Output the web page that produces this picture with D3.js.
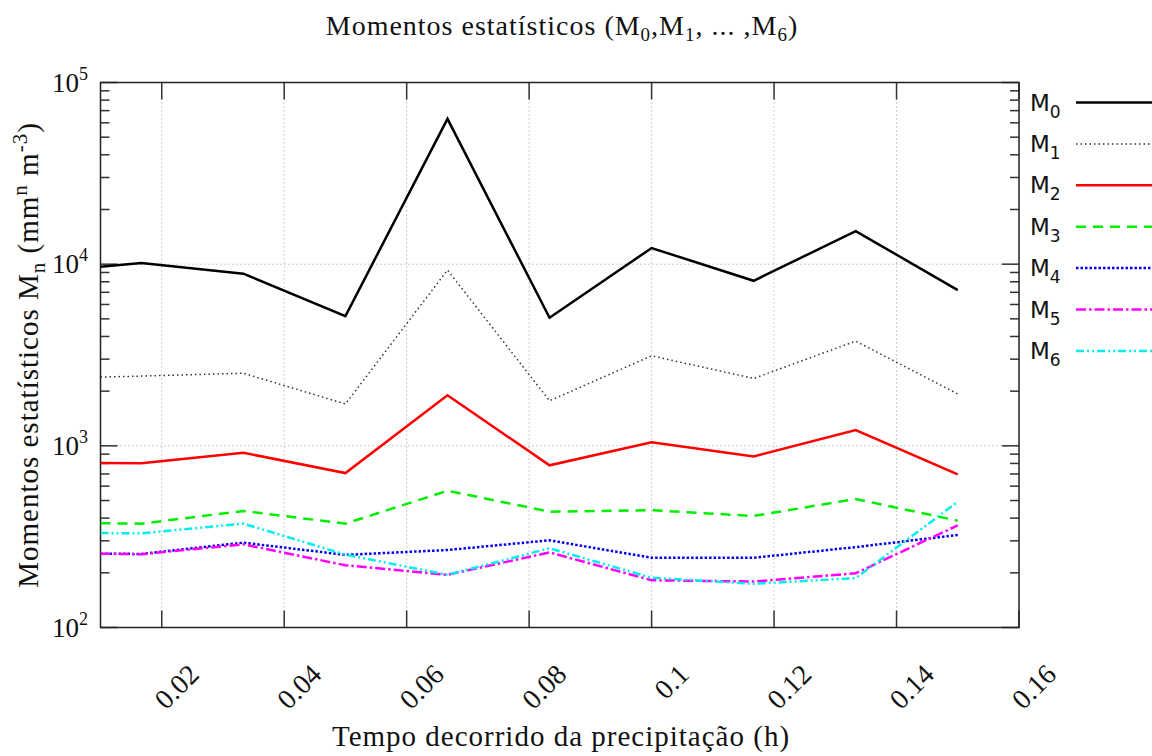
<!DOCTYPE html>
<html>
<head>
<meta charset="utf-8">
<script src="https://cdn.jsdelivr.net/npm/d3@7"></script>
<style>
  html, body { margin: 0; padding: 0; background: #ffffff; }
  svg { display: block; }
</style>
</head>
<body>
<svg id="chart" width="1152" height="756"></svg>
<script>
// Elapsed time of the precipitation event (hours)
const times = [0.01, 1/60, 2/60, 3/60, 4/60, 5/60, 6/60, 7/60, 8/60, 9/60];

// Statistical moments M0..M6 (mm^n m^-3)
const m0 = [9680, 10140, 8860, 5180, 63100, 5070, 12270, 8100, 15200, 7200];
const m1 = [2390, 2420, 2510, 1700, 9280, 1770, 3130, 2350, 3770, 1930];
const m2 = [804, 801, 916, 708, 1900, 781, 1045, 875, 1222, 697];
const m3 = [375, 373, 438, 373, 566, 434, 442, 411, 510, 387];
const m4 = [255, 254, 293, 251, 267, 302, 242, 242, 277, 323];
const m5 = [255, 253, 287, 220, 195, 259, 182, 179, 199, 365];
const m6 = [331, 330, 373, 252, 195, 273, 188, 174, 187, 492];

const seriesNames = ["0", "1", "2", "3", "4", "5", "6"];
const seriesValues = [m0, m1, m2, m3, m4, m5, m6];
const seriesColors = ["#000000", "#333333", "#ff0000", "#00ee00", "#0000ee", "#ff00ff", "#00eeee"];
const seriesDash = [null, "1.5,3", null, "10,7", "2.5,2", "10,3,2.5,3", "8,3,2,3,2,3"];
const seriesWidth = [2.5, 1.5, 2.5, 2.5, 2.5, 2.5, 2.5];

const xTicks = [0.02, 0.04, 0.06, 0.08, 0.1, 0.12, 0.14, 0.16];
const xTickLabels = ["0.02", "0.04", "0.06", "0.08", "0.1", "0.12", "0.14", "0.16"];
const yDecades = [2, 3, 4, 5];

const svg = d3.select("#chart");
const plot = { left: 100.5, right: 1019, top: 82.5, bottom: 627.5 };

const x = d3.scaleLinear().domain([0.01, 0.16]).range([plot.left, plot.right]);
const y = d3.scaleLog().domain([1e2, 1e5]).range([plot.bottom, plot.top]);

const serif = "'Liberation Serif', 'DejaVu Serif', serif";
const sans = "'DejaVu Sans', 'Liberation Sans', sans-serif";

// Clip region for the data lines
svg.append("defs").append("clipPath").attr("id", "plotClip")
  .append("rect")
  .attr("x", plot.left).attr("y", plot.top)
  .attr("width", plot.right - plot.left).attr("height", plot.bottom - plot.top);

// Grid lines (dotted)
const grid = svg.append("g").attr("stroke", "#9a9a9a").attr("stroke-width", 1)
  .attr("stroke-dasharray", "1,3");
xTicks.filter(t => t < 0.159).forEach(t => {
  grid.append("line").attr("x1", x(t)).attr("x2", x(t))
    .attr("y1", plot.top).attr("y2", plot.bottom);
});
[3, 4].forEach(d => {
  grid.append("line").attr("x1", plot.left).attr("x2", plot.right)
    .attr("y1", y(Math.pow(10, d))).attr("y2", y(Math.pow(10, d)));
});

// Tick marks on all four sides
const ticks = svg.append("g").attr("stroke", "#333").attr("stroke-width", 1.5);
xTicks.forEach(t => {
  ticks.append("line").attr("x1", x(t)).attr("x2", x(t))
    .attr("y1", plot.bottom).attr("y2", plot.bottom - 17);
  ticks.append("line").attr("x1", x(t)).attr("x2", x(t))
    .attr("y1", plot.top).attr("y2", plot.top + 17);
});
yDecades.forEach(d => {
  const base = Math.pow(10, d);
  ticks.append("line").attr("x1", plot.left).attr("x2", plot.left + 17)
    .attr("y1", y(base)).attr("y2", y(base));
  ticks.append("line").attr("x1", plot.right).attr("x2", plot.right - 17)
    .attr("y1", y(base)).attr("y2", y(base));
  if (d < 5) {
    for (let k = 2; k <= 9; k++) {
      const v = k * base;
      ticks.append("line").attr("x1", plot.left).attr("x2", plot.left + 9)
        .attr("y1", y(v)).attr("y2", y(v));
      ticks.append("line").attr("x1", plot.right).attr("x2", plot.right - 9)
        .attr("y1", y(v)).attr("y2", y(v));
    }
  }
});

// Frame
svg.append("rect").attr("x", plot.left).attr("y", plot.top)
  .attr("width", plot.right - plot.left).attr("height", plot.bottom - plot.top)
  .attr("fill", "none").attr("stroke", "#222").attr("stroke-width", 1.5);

// Y tick labels: powers of ten
yDecades.forEach(d => {
  const t = svg.append("text")
    .attr("x", 88).attr("y", y(Math.pow(10, d)) + 9)
    .attr("text-anchor", "end")
    .attr("font-family", serif).attr("font-size", 27).attr("fill", "#111");
  t.append("tspan").text("10");
  t.append("tspan").attr("font-size", 18).attr("dy", -12).text(d);
});

// X tick labels, rotated
xTicks.forEach((t, i) => {
  const px = x(t) + 39, py = 676;
  svg.append("text")
    .attr("transform", `translate(${px},${py}) rotate(-45)`)
    .attr("text-anchor", "end")
    .attr("font-family", serif).attr("font-size", 28).attr("fill", "#111")
    .text(xTickLabels[i]);
});

// Data lines
const line = d3.line().x((d, i) => x(times[i])).y(d => y(d));
const lines = svg.append("g").attr("clip-path", "url(#plotClip)");
seriesValues.forEach((vals, s) => {
  lines.append("path").datum(vals)
    .attr("d", line)
    .attr("fill", "none")
    .attr("stroke", seriesColors[s])
    .attr("stroke-width", seriesWidth[s])
    .attr("stroke-linejoin", "miter")
    .attr("stroke-dasharray", seriesDash[s]);
});

// Legend
seriesNames.forEach((n, s) => {
  const ly = 102.5 + s * 41.4;
  const t = svg.append("text").attr("x", 1030).attr("y", ly + 8)
    .attr("font-family", sans).attr("font-size", 23).attr("fill", "#111");
  t.append("tspan").text("M");
  t.append("tspan").attr("font-size", 17).attr("dy", 7).text(n);
  svg.append("line").attr("x1", 1076).attr("x2", 1152)
    .attr("y1", ly).attr("y2", ly)
    .attr("stroke", seriesColors[s])
    .attr("stroke-width", seriesWidth[s])
    .attr("stroke-dasharray", seriesDash[s]);
});

// Title
const title = svg.append("text").attr("x", 562).attr("y", 35)
  .attr("text-anchor", "middle")
  .attr("font-family", serif).attr("font-size", 28).attr("letter-spacing", 1)
  .attr("fill", "#111");
title.append("tspan").text("Momentos estatísticos (M");
title.append("tspan").attr("font-size", 19).attr("dy", 6).text("0");
title.append("tspan").attr("dy", -6).text(",M");
title.append("tspan").attr("font-size", 19).attr("dy", 6).text("1");
title.append("tspan").attr("dy", -6).text(", ... ,M");
title.append("tspan").attr("font-size", 19).attr("dy", 6).text("6");
title.append("tspan").attr("dy", -6).text(")");

// X axis label
svg.append("text").attr("x", 561).attr("y", 746)
  .attr("text-anchor", "middle")
  .attr("font-family", serif).attr("font-size", 29).attr("letter-spacing", 1)
  .attr("fill", "#111")
  .text("Tempo decorrido da precipitação (h)");

// Y axis label
const yl = svg.append("text")
  .attr("transform", "translate(38,355) rotate(-90)")
  .attr("text-anchor", "middle")
  .attr("font-family", serif).attr("font-size", 29).attr("letter-spacing", 1)
  .attr("fill", "#111");
yl.append("tspan").text("Momentos estatísticos M");
yl.append("tspan").attr("font-size", 21).attr("dy", 7).text("n");
yl.append("tspan").attr("dy", -7).text(" (mm");
yl.append("tspan").attr("font-size", 21).attr("dy", -11).text("n");
yl.append("tspan").attr("dy", 11).text(" m");
yl.append("tspan").attr("font-size", 21).attr("dy", -11).text("-3");
yl.append("tspan").attr("dy", 11).text(")");
</script>
</body>
</html>
